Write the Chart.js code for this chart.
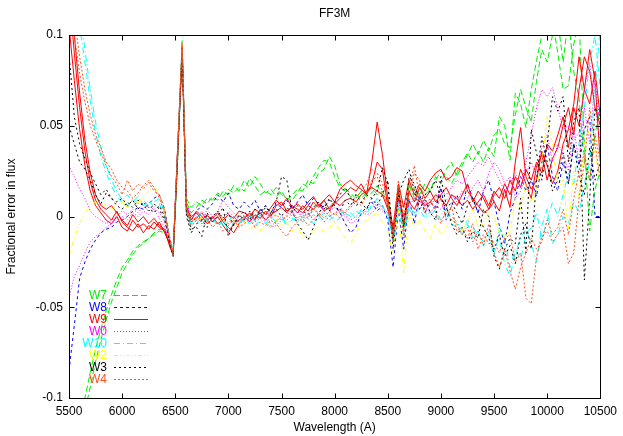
<!DOCTYPE html>
<html><head><meta charset="utf-8">
<script src="https://cdn.jsdelivr.net/npm/chart.js@4"></script>
<style>html,body{margin:0;padding:0;background:#fff;}canvas{display:block;}</style>
</head><body>
<canvas id="c" width="623" height="436"></canvas>
<script>
const wavelengths = [5500,5550,5600,5650,5700,5750,5800,5850,5900,5950,
 6000,6050,6100,6150,6200,6250,6300,6350,6400,6450,
 6480,6520,6565,6605,
 6650,6700,6750,6800,6850,6900,6950,7000,7050,7100,
 7150,7200,7250,7300,7350,7400,7450,7500,7550,7600,
 7650,7700,7750,7800,7850,7900,7950,8000,8050,8100,
 8150,8200,8250,8300,8350,8400,8450,8500,8550,8600,
 8650,8700,8750,8800,8850,8900,8950,9000,9050,9100,
 9150,9200,9250,9300,9350,9400,9450,9500,9550,9600,
 9650,9700,9750,9800,9850,9900,9950,10000,10050,10100,
 10150,10200,10250,10300,10350,10400,10450,10500];

const W7 = [-.14,-.125,-.112,-.1,-.086,-.073,-.062,-.052,-.043,-.035,
 -.028,-.024,-.019,-.016,-.014,-.012,-.01,-.008,-.009,-.015,
 -.021,.03,.095,.01,
 .005,.008,.006,.01,.009,.013,.011,.015,.013,.016,
 .014,.021,.017,.012,.014,.012,.016,.012,.01,.009,
 .013,.018,.016,.022,.027,.031,.03,.022,.016,.014,
 .011,.012,.01,.013,.016,.012,.014,.008,-.01,.014,
 -.008,.018,.01,.016,.012,.015,.02,.025,.022,.018,
 .024,.03,.035,.03,.036,.03,.038,.033,.055,.05,
 .031,.068,.062,.049,.07,.086,.1,.105,.108,.09,
 .07,.072,.095,.108,.04,-.008,.015,.025];
const W7b = [-.15,-.135,-.12,-.107,-.094,-.08,-.068,-.057,-.047,-.039,
 -.031,-.026,-.021,-.017,-.015,-.012,-.009,-.007,-.007,-.015,
 -.022,.028,.092,.008,
 .002,.005,.009,.007,.011,.009,.014,.012,.017,.014,
 .02,.016,.022,.018,.013,.015,.011,.014,.009,.012,
 .015,.014,.02,.018,.024,.026,.033,.028,.018,.015,
 .013,.01,.014,.011,.013,.017,.012,.01,-.008,.012,
 -.006,.014,.016,.012,.018,.014,.022,.018,.026,.03,
 .022,.028,.034,.04,.034,.042,.036,.045,.048,.04,
 .038,.056,.07,.06,.052,.075,.092,.085,.1,.108,
 .085,.11,.08,.065,.03,.02,.045,.06];
const W8 = [-.085,-.06,-.034,-.025,-.018,-.013,-.009,-.007,-.006,-.003,
 -.002,0,.003,.005,.004,.007,.01,.012,.004,-.012,
 -.02,.032,.096,.006,
 -.002,.003,.006,.004,.007,.012,.008,.013,.006,.004,
 .008,.005,.009,.003,.006,.002,.007,.005,.009,.004,
 .008,.012,.006,.01,.007,.005,.009,.006,.002,-.004,
 -.009,-.006,.002,.005,.008,.003,.006,-.002,-.028,.004,
 -.018,.01,-.004,.012,.002,.008,.005,.016,-.002,.006,
 .012,.004,.018,.01,.002,.014,.02,.008,-.005,-.015,
 .002,.01,.022,.014,.02,.011,.03,.04,.022,.014,
 .03,.018,.04,.028,.048,.055,0,0];
const W9 = [.105,.075,.048,.028,.014,.006,.002,-.002,-.004,0,
 -.006,-.008,-.002,-.006,-.004,-.007,-.003,-.006,-.008,-.016,
 -.021,.034,.092,.004,
 0,.002,-.002,.001,-.003,0,-.005,-.009,-.004,-.002,
 0,-.003,.001,-.001,.003,0,.006,.008,.003,.005,
 .002,.006,.003,.008,.005,.009,.004,.007,.01,.013,
 .016,.014,.018,.012,.03,.052,.034,.01,-.006,.018,
 .005,.02,.012,.018,.014,.02,.024,.026,.02,.022,
 .027,.025,.014,.01,.006,.002,.004,.008,.003,.015,
 .005,.03,.049,.022,.015,.02,.036,.028,.018,.025,
 .04,.048,.062,.088,.07,.092,.075,.03];
const W9b = [.125,.09,.06,.036,.019,.009,.004,.001,-.002,.003,
 -.003,-.006,-.008,-.004,-.009,-.005,-.007,-.003,-.009,-.015,
 -.02,.035,.094,.006,
 -.002,.003,0,-.004,-.001,.002,-.003,-.006,-.009,-.004,
 -.001,.002,-.002,.004,.001,.005,.009,.006,.01,.005,
 .007,.004,.008,.011,.006,.009,.012,.008,.015,.018,
 .02,.017,.015,.012,.018,.03,.026,.005,-.012,.015,
 -.004,.014,.008,.016,.01,.014,.008,.012,.016,.01,
 .006,.012,.018,.008,.014,.01,.004,.012,.016,.01,
 .02,.014,.026,.018,.01,.028,.034,.02,.032,.038,
 .05,.06,.045,.07,.088,.08,.06,.05];
const W9c = [.14,.1,.068,.042,.024,.012,.006,.004,.006,.002,
 -.002,-.005,.001,-.003,0,-.004,-.001,-.005,-.007,-.017,
 -.021,.033,.09,.003,
 -.003,-.001,.002,-.002,0,-.004,-.002,.001,-.001,.003,
 .002,0,.004,.002,-.002,.001,.003,.005,.002,.006,
 .004,.002,.006,.004,.007,.003,.005,.008,.006,.009,
 .01,.008,.012,.014,.016,.014,.012,.004,-.008,.01,
 0,.008,.004,.01,.006,.008,.012,.01,.006,.012,
 .01,.006,.009,.004,.008,.012,.006,.014,.01,.018,
 .012,.022,.016,.026,.02,.03,.024,.04,.036,.045,
 .055,.038,.06,.05,.07,.062,.08,.055];
const W0 = [.028,.022,.015,.01,.003,0,-.002,-.004,-.002,0,
 .003,.001,.004,.002,.006,.003,.005,.002,-.003,-.013,
 -.02,.03,.093,.005,
 0,.002,-.003,.004,0,.003,.009,.005,.002,-.002,
 .001,-.003,0,.002,-.004,-.006,-.005,-.002,.001,.003,
 -.001,.002,0,.004,.001,.006,.003,.005,.002,0,
 -.004,-.002,.001,.003,.005,.007,.004,.002,-.01,.008,
 -.002,.006,.01,.004,.008,.006,.01,.014,.012,.016,
 .02,.018,.022,.026,.03,.028,.033,.026,.02,.014,
 .018,.024,.016,.03,.045,.06,.07,.066,.071,.06,
 .048,.05,.042,.046,.07,.085,.06,.04];
const W0b = [-.045,-.033,-.027,-.02,-.014,-.011,-.009,-.006,-.004,-.001,
 0,-.002,.002,0,.003,.001,.004,-.001,-.006,-.014,
 -.021,.032,.095,.007,
 .001,-.001,.003,0,-.003,.002,-.001,.003,0,-.004,
 -.002,.001,-.003,-.001,.002,-.005,-.003,0,-.002,.001,
 .003,-.001,.002,-.002,.001,.003,0,.002,.004,.001,
 -.002,0,.003,.001,.002,.005,.003,0,-.008,.006,
 -.003,.004,.002,.008,.005,.002,.006,.004,.009,.012,
 .008,.014,.01,.016,.02,.014,.024,.03,.026,.018,
 .022,.01,.014,.024,.03,.022,.038,.045,.03,.04,
 .035,.025,.048,.03,.06,.04,.075,.05];
const W10 = [.15,.13,.105,.085,.064,.046,.033,.024,.017,.011,
 .008,.005,.01,.007,.009,.006,.008,.01,.002,-.012,
 -.02,.033,.097,.004,
 -.004,-.001,.002,-.003,0,-.006,-.002,-.008,-.003,0,
 -.003,.001,-.005,-.002,-.004,0,-.003,-.001,-.005,-.002,
 0,-.003,-.001,-.004,0,-.002,.001,-.003,-.001,.002,
 0,.003,.001,.004,.006,.008,.005,.002,-.014,.005,
 -.01,.006,.002,.004,-.001,.003,-.002,.001,.004,0,
 -.003,-.008,-.002,-.006,-.01,-.014,-.008,-.018,-.012,-.026,
 -.033,-.02,-.012,-.007,-.015,-.025,-.005,.004,-.015,-.01,
 0,-.004,.008,.002,.018,.03,.07,.105];
const W10b = [.16,.14,.115,.092,.07,.052,.038,.028,.02,.014,
 .009,.012,.008,.011,.006,.009,.005,.007,0,-.014,
 -.021,.031,.095,.002,
 -.006,-.002,-.005,0,-.003,-.001,-.005,-.002,0,-.004,
 -.001,-.004,-.002,.001,-.003,-.006,-.002,0,-.004,-.001,
 -.003,0,-.002,.001,-.001,.002,-.002,0,.003,.001,
 .002,-.001,.004,.002,.005,.01,.006,0,-.012,.008,
 -.006,.004,0,.006,.002,0,.004,-.002,.002,-.004,
 -.006,-.01,-.004,-.012,-.008,-.016,-.01,-.022,-.006,-.012,
 -.028,-.018,-.024,-.01,-.006,.002,-.012,-.002,.008,0,
 .012,.024,.018,.04,.06,.085,.1,.07];
const W2 = [-.022,-.012,-.004,.002,.006,.008,.005,.007,.004,.006,
 .008,.005,.009,.007,.011,.014,.016,.012,.002,-.013,
 -.02,.03,.096,.003,
 -.001,-.004,0,-.002,-.005,-.003,-.001,-.004,-.002,-.006,
 -.003,-.007,-.005,-.008,-.004,-.006,-.002,-.005,-.003,-.008,
 -.006,-.011,-.013,-.008,-.005,-.009,-.006,-.003,-.008,-.012,
 -.015,-.009,-.004,-.002,0,.002,-.003,-.008,-.02,.005,
 -.031,.002,-.006,-.002,-.008,-.012,-.004,-.01,-.006,-.002,
 -.004,-.008,-.002,.004,-.006,-.004,.002,0,-.009,-.011,
 -.008,.01,.004,.018,.008,.016,.03,.055,.04,.015,
 .02,-.007,.025,.01,.04,.048,.035,.02];
const W3 = [.05,.04,.03,.026,.02,.012,.007,.013,.01,.006,
 .004,.008,.005,.009,.006,.003,.007,.004,-.002,-.014,
 -.021,.028,.093,.002,
 -.007,-.006,-.011,.002,-.003,0,.005,-.011,-.004,0,
 .003,-.002,.004,.001,.005,.002,.008,.022,.02,.003,
 -.004,-.008,-.013,-.006,.002,.006,.003,.008,.012,.016,
 .01,.006,.008,.012,.01,.014,.027,.018,-.018,.012,
 .02,.026,.014,.004,.01,.002,-.002,.022,.006,-.004,
 -.01,-.006,-.014,-.008,-.012,.004,0,-.022,-.029,-.018,
 -.012,-.015,.01,-.02,.048,.035,.02,.04,.066,.058,
 .066,.03,.052,.06,-.035,.01,.06,.055];
const W3b = [.09,.055,.04,.032,.024,.018,.012,.015,.01,.008,
 .01,.006,.009,.004,.008,.005,.002,.006,0,-.015,
 -.022,.03,.09,0,
 -.009,-.004,-.002,-.006,0,.003,-.001,.002,-.005,.001,
 -.002,.003,-.001,.002,.006,.001,.004,0,.005,.002,
 .006,.003,.001,.005,.008,.004,.01,.006,.003,.009,
 .006,.012,.008,.004,.01,.006,.012,.02,-.012,.016,
 -.006,.022,.018,.008,.012,.014,.02,.01,.004,.008,
 .002,-.004,.006,.01,.002,-.006,-.012,-.018,-.01,-.022,
 -.016,-.026,-.01,-.004,-.018,.02,.044,.03,.014,.02,
 .035,.018,.04,.022,.012,.038,.02,.03];
const W4 = [.13,.1,.079,.063,.05,.042,.035,.028,.022,.018,
 .012,.02,.014,.018,.015,.019,.014,.012,.004,-.013,
 -.02,.032,.096,.005,
 -.003,0,-.004,-.001,-.006,-.003,-.008,-.005,-.002,-.006,
 -.004,-.001,-.006,-.003,-.005,-.002,-.004,-.008,-.011,-.006,
 -.003,-.001,-.005,-.002,.001,-.003,0,.002,-.001,.003,
 .006,.01,.014,.018,.026,.024,.018,.01,-.014,.016,
 -.012,.012,.024,.02,.002,.008,.004,.01,-.002,.006,
 -.008,-.006,-.012,-.004,-.018,-.01,-.015,-.014,-.02,-.012,
 -.01,-.025,-.02,-.045,-.048,-.022,-.011,-.008,-.014,-.01,
 -.006,-.026,-.02,.01,.03,.06,.04,.02];
const W4b = [.14,.11,.088,.07,.056,.045,.038,.03,.026,.02,
 .016,.014,.01,.013,.017,.02,.016,.01,.002,-.014,
 -.021,.03,.094,.003,
 -.005,-.002,0,-.003,-.001,.002,-.002,-.004,0,-.003,
 -.001,.002,-.002,0,.003,-.001,.001,-.002,0,.002,
 -.002,.001,-.001,.004,.002,-.001,.003,.001,.004,.002,
 .005,.008,.006,.012,.02,.022,.014,.006,-.01,.02,
 0,.016,.028,.01,.006,.01,.002,-.004,.004,-.002,
 -.004,-.01,-.006,-.014,-.008,-.016,-.004,-.02,-.028,-.018,
 -.03,-.04,-.028,-.02,-.012,-.018,-.014,-.002,-.01,-.006,
 .004,-.01,.01,.025,.035,.02,.045,.03];

const legendLabels = ['W7','W8','W9','W0','W10','W2','W3','W4'];
const xTickValues = [5500,6000,6500,7000,7500,8000,8500,9000,9500,10000,10500];
const yTickValues = [-0.1,-0.05,0,0.05,0.1];

const styleOf = {
  W7:{color:'#00ee00', dash:[6,3]},
  W8:{color:'#0000ff', dash:[3,3]},
  W9:{color:'#ff0000', dash:[]},
  W0:{color:'#ff00ff', dash:[1,2]},
  W10:{color:'#00ffff', dash:[6,3,1,3]},
  W2:{color:'#ffff00', dash:[4,2,1,2,1,2]},
  W3:{color:'#000000', dash:[2,3]},
  W4:{color:'#ff5020', dash:[2,2]}
};

const seriesList = [
  ['W7',W7],['W7',W7b],
  ['W8',W8],
  ['W9',W9],['W9',W9b],['W9',W9c],
  ['W0',W0],['W0',W0b],
  ['W10',W10],['W10',W10b],
  ['W2',W2],
  ['W3',W3],['W3',W3b],
  ['W4',W4],['W4',W4b]
];

const datasets = seriesList.map(([name, arr], i) => ({
  label: name,
  data: wavelengths.map((w, k) => ({x: w, y: arr[k]})),
  borderColor: styleOf[name].color,
  borderDash: styleOf[name].dash,
  borderWidth: 1,
  pointRadius: 0,
  tension: 0,
  fill: false,
  clip: 0,
  order: seriesList.length - i
}));

const FONT = {family:"'Liberation Sans', Arial, sans-serif", size:12, weight:'normal'};
Chart.defaults.font.family = FONT.family;
Chart.defaults.font.size = 12;
Chart.defaults.color = '#000';

function sampleLine(ctx, x0, x1, y, color, dash) {
  ctx.fillStyle = color;
  if (!dash.length) { ctx.fillRect(x0, y, x1 - x0, 1); return; }
  let x = x0, k = 0;
  while (x < x1) {
    const len = dash[k % dash.length];
    if (k % 2 === 0) ctx.fillRect(x, y, Math.min(len, x1 - x), 1);
    x += len; k++;
  }
}

const framePlugin = {
  id:'frame',
  afterDraw(chart){
    const {ctx, chartArea:a, scales:{x, y}} = chart;
    ctx.save();
    ctx.setLineDash([]);
    ctx.strokeStyle = '#000';
    ctx.lineWidth = 1;
    const L = Math.round(a.left)+0.5, R = Math.round(a.right)+0.5, T = Math.round(a.top)+0.5, B = Math.round(a.bottom)+0.5;
    ctx.beginPath();
    x.ticks.forEach(t => {
      const px = Math.round(x.getPixelForValue(t.value))+0.5;
      ctx.moveTo(px, B); ctx.lineTo(px, B-5);
      ctx.moveTo(px, T); ctx.lineTo(px, T+5);
    });
    y.ticks.forEach(t => {
      const py = Math.round(y.getPixelForValue(t.value))+0.5;
      ctx.moveTo(L, py); ctx.lineTo(L+5, py);
      ctx.moveTo(R, py); ctx.lineTo(R-5, py);
    });
    ctx.stroke();
    ctx.strokeRect(L, T, R-L, B-T);

    // legend (gnuplot style: label right-aligned, line sample to the right)
    ctx.font = "12px 'Liberation Sans', Arial, sans-serif";
    ctx.textAlign = 'right';
    ctx.textBaseline = 'middle';
    legendLabels.forEach((name, row) => {
      const st = styleOf[name];
      const yy = 295 + row*12;
      ctx.fillStyle = st.color;
      ctx.fillText(name, 107, yy + 1);
      sampleLine(ctx, 114, 148, yy, st.color, st.dash);
    });
    ctx.restore();
  }
};

new Chart(document.getElementById('c'), {
  type:'line',
  data:{datasets},
  options:{
    responsive:false,
    animation:false,
    devicePixelRatio:1,
    layout:{padding:{left:0, right:21, top:0, bottom:0}},
    plugins:{
      legend:{display:false},
      tooltip:{enabled:false},
      title:{display:true, text:'FF3M', color:'#000', font:FONT, fullSize:false, padding:{top:6, bottom:14.6}}
    },
    scales:{
      x:{
        type:'linear', min:5500, max:10500,
        afterBuildTicks: s => { s.ticks = xTickValues.map(v => ({value:v})); },
        ticks:{callback: v => String(v), color:'#000', font:FONT, padding:6, maxRotation:0, autoSkip:false},
        grid:{display:false, drawTicks:false},
        border:{display:false},
        title:{display:true, text:'Wavelength (A)', color:'#000', font:FONT, padding:{top:0, bottom:1}},
        afterFit: s => { s.height = 38; }
      },
      y:{
        type:'linear', min:-0.1, max:0.1,
        afterBuildTicks: s => { s.ticks = yTickValues.map(v => ({value:v})); },
        ticks:{callback: v => String(+Number(v).toFixed(2)), color:'#000', font:FONT, padding:6, autoSkip:false},
        grid:{display:false, drawTicks:false},
        border:{display:false},
        title:{display:true, text:'Fractional error in flux', color:'#000', font:FONT, padding:{top:4, bottom:0}},
        afterFit: s => { s.width = 69; }
      }
    }
  },
  plugins:[framePlugin]
});
</script>
</body></html>
